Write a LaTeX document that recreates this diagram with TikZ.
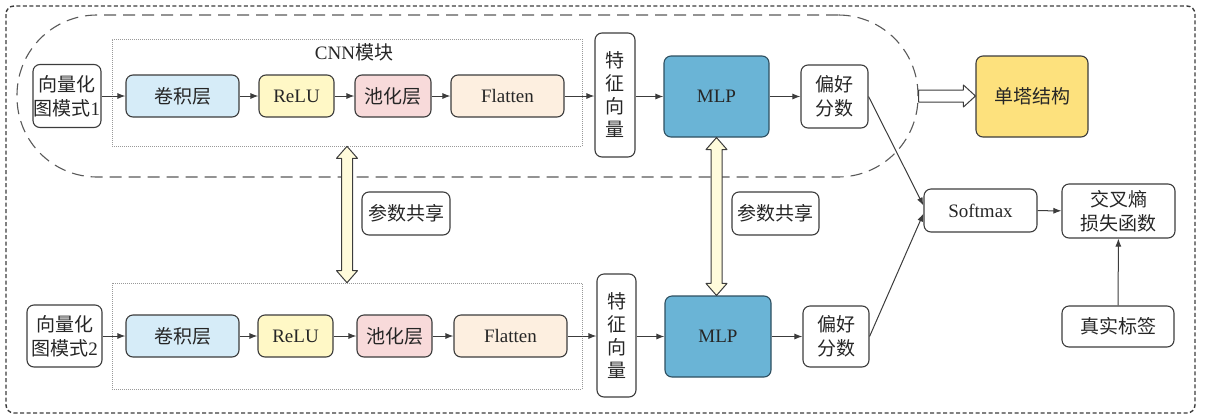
\documentclass[tikz,border=0pt]{standalone}
\usepackage{fontspec}
\setmainfont{Liberation Serif}
\newfontfamily\cjk{Noto Sans CJK SC}
\usetikzlibrary{arrows.meta,calc}

\definecolor{edge}{HTML}{3C3C3C}
\definecolor{ink}{HTML}{262626}
\definecolor{convfill}{HTML}{D6ECF8}
\definecolor{relufill}{HTML}{FFF8C6}
\definecolor{poolfill}{HTML}{F8DADA}
\definecolor{flatfill}{HTML}{FDEFE0}
\definecolor{mlpfill}{HTML}{6AB4D6}
\definecolor{mlpedge}{HTML}{2E4F60}
\definecolor{towerfill}{HTML}{FDE17D}
\definecolor{sharefill}{HTML}{FFFBDB}

\newcommand\twoway[2]{%
  \draw[sharearrow] let \p1=(#1), \p2=(#2) in
    (\x1,\y1) -- (\x1+10.5pt,\y1-12pt) -- (\x1+5.5pt,\y1-12pt)
    -- (\x1+5.5pt,\y2+12pt) -- (\x1+10.5pt,\y2+12pt) -- (\x1,\y2)
    -- (\x1-10.5pt,\y2+12pt) -- (\x1-5.5pt,\y2+12pt)
    -- (\x1-5.5pt,\y1-12pt) -- (\x1-10.5pt,\y1-12pt) -- cycle;}

\begin{document}
\begin{tikzpicture}[x=1pt,y=-1pt,
  txt/.style={text=ink,font=\fontsize{19}{24}\selectfont},
  box/.style={txt,draw=edge,line width=1.1pt,rounded corners=7pt,
    align=center,inner sep=0pt},
  layer/.style={box,minimum height=42pt},
  vtext/.style={box,font=\fontsize{19}{23}\selectfont},
  module/.style={draw=black!40,line width=0.6pt,dash pattern=on 1pt off 1pt,
    minimum width=470pt,inner sep=0pt},
  flow/.style={draw=edge,line width=1pt,-{Latex[length=8pt,width=6pt]}},
  sharearrow/.style={draw=edge,line width=1pt,fill=sharefill,line join=round},
]
\useasboundingbox (0,0) rectangle (1205,416);

% outer frame
\draw[edge,line width=1.4pt,dash pattern=on 4pt off 2.5pt,rounded corners=8pt]
  (6,6) rectangle (1195,413);

% single-tower region
\node[draw=black!65,line width=1.1pt,dash pattern=on 12pt off 7pt,
  rounded corners=80pt,minimum width=901pt,minimum height=162pt,inner sep=0pt]
  (single) at (467.5,96) {};

% CNN module frames
\node[module,minimum height=107pt] (cnnA) at (347,92.5) {};
\node[module,minimum height=106pt] (cnnB) at (347,336) {};
\node[txt] (cnnlabel) at (354,52) {CNN{\cjk 模块}};

% upper branch
\node[box,minimum width=68pt,minimum height=63pt] (inA) at (67,96)
  {{\cjk 向量化}\\{\cjk 图模式}1};
\node[layer,minimum width=113pt,fill=convfill] (convA) at (182.5,96) {\cjk 卷积层};
\node[layer,minimum width=75pt,fill=relufill] (reluA) at (296.5,96) {ReLU};
\node[layer,minimum width=76pt,fill=poolfill] (poolA) at (393,96) {\cjk 池化层};
\node[layer,minimum width=113pt,fill=flatfill] (flatA) at (507.5,96) {Flatten};
\node[vtext,minimum width=40pt,minimum height=124pt] (featA) at (615,95)
  {\cjk 特\\\cjk 征\\\cjk 向\\\cjk 量};
\node[box,draw=mlpedge,minimum width=105pt,minimum height=81pt,fill=mlpfill]
  (mlpA) at (716.5,96.5) {MLP};
\node[box,minimum width=67pt,minimum height=63pt] (scoreA) at (834.5,96.5)
  {{\cjk 偏好}\\{\cjk 分数}};

% lower branch
\node[box,minimum width=75pt,minimum height=62pt] (inB) at (64.5,336)
  {{\cjk 向量化}\\{\cjk 图模式}2};
\node[layer,minimum width=113pt,fill=convfill] (convB) at (182.5,336) {\cjk 卷积层};
\node[layer,minimum width=75pt,fill=relufill] (reluB) at (295.5,336) {ReLU};
\node[layer,minimum width=75pt,fill=poolfill] (poolB) at (394.5,336) {\cjk 池化层};
\node[layer,minimum width=113pt,fill=flatfill] (flatB) at (510.5,336) {Flatten};
\node[vtext,minimum width=39pt,minimum height=123pt] (featB) at (616.5,335.5)
  {\cjk 特\\\cjk 征\\\cjk 向\\\cjk 量};
\node[box,draw=mlpedge,minimum width=106pt,minimum height=81pt,fill=mlpfill]
  (mlpB) at (718,336.5) {MLP};
\node[box,minimum width=66pt,minimum height=61pt] (scoreB) at (836,336.5)
  {{\cjk 偏好}\\{\cjk 分数}};

% shared-parameter notes
\node[box,minimum width=88pt,minimum height=43pt] (shareL) at (406,213.5) {\cjk 参数共享};
\node[box,minimum width=87pt,minimum height=43pt] (shareR) at (775.5,213.5) {\cjk 参数共享};

% right-hand part
\node[box,minimum width=112pt,minimum height=81pt,fill=towerfill] (tower) at (1032,96.5)
  {\cjk 单塔结构};
\node[box,minimum width=113pt,minimum height=43pt] (softmax) at (980.5,210.5) {Softmax};
\node[box,minimum width=113pt,minimum height=54pt] (loss) at (1118.5,211)
  {{\cjk 交叉熵}\\{\cjk 损失函数}};
\node[box,minimum width=112pt,minimum height=41pt] (truth) at (1118,326.5) {\cjk 真实标签};

% data flow, upper
\draw[flow] (inA) -- (convA);
\draw[flow] (convA) -- (reluA);
\draw[flow] (reluA) -- (poolA);
\draw[flow] (poolA) -- (flatA);
\draw[flow] (flatA) -- (featA.west |- flatA);
\draw[flow] (featA.east |- mlpA) -- (mlpA);
\draw[flow] (mlpA) -- (scoreA);

% data flow, lower
\draw[flow] (inB) -- (convB);
\draw[flow] (convB) -- (reluB);
\draw[flow] (reluB) -- (poolB);
\draw[flow] (poolB) -- (flatB);
\draw[flow] (flatB) -- (featB.west |- flatB);
\draw[flow] (featB.east |- mlpB) -- (mlpB);
\draw[flow] (mlpB) -- (scoreB);

% scores to softmax and loss
\draw[flow] (scoreA.east) -- ($(softmax.west)+(0,-5)$);
\draw[flow] (scoreB.east) -- ($(softmax.west)+(0,3)$);
\draw[flow] (softmax) -- (loss);
\draw[flow] (truth) -- (loss);

% parameter sharing arrows
\coordinate (shA) at (cnnA.south -| 347,0);
\coordinate (shB) at (cnnB.north -| 347,0);
\twoway{shA}{shB}
\coordinate (smA) at (mlpA.south);
\coordinate (smB) at (mlpA.south |- mlpB.north);
\twoway{smA}{smB}

% hollow arrow to the single-tower box
\draw[edge,line width=1pt,fill=white,line join=round]
  let \p1=(single.east), \p2=(tower.west) in
  (\x1,\y1+6pt) -- (\x2-12pt,\y1+6pt) -- (\x2-12pt,\y1+11pt) -- (\x2,\y1)
  -- (\x2-12pt,\y1-11pt) -- (\x2-12pt,\y1-6pt) -- (\x1,\y1-6pt) -- cycle;
\end{tikzpicture}
\end{document}
